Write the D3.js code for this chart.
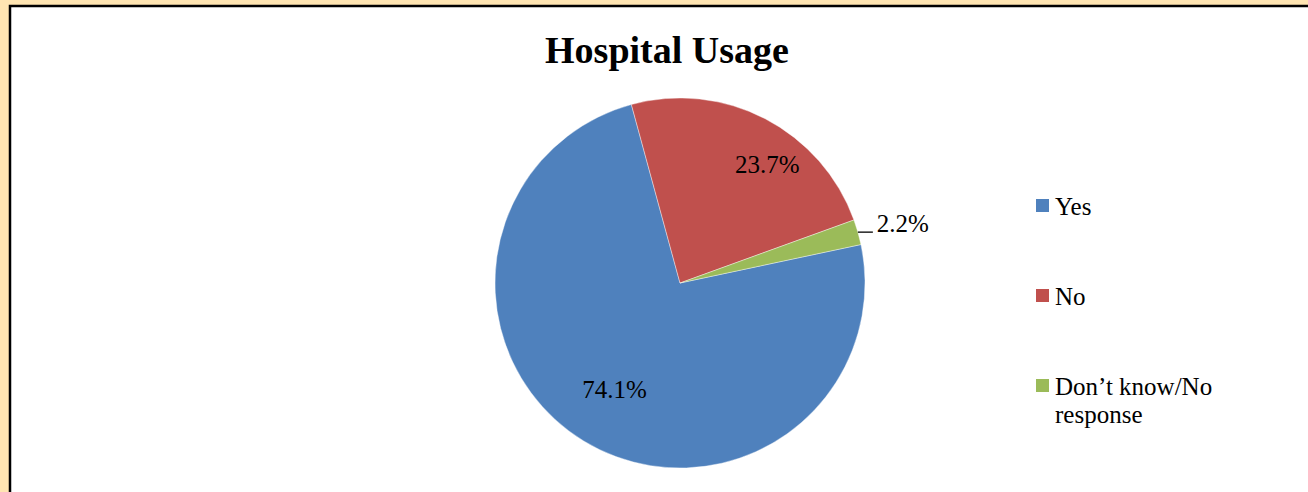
<!DOCTYPE html>
<html>
<head>
<meta charset="utf-8">
<script src="https://cdn.jsdelivr.net/npm/d3@7"></script>
<style>
  body { margin: 0; background: #FFE5B2; }
  svg { display: block; }
</style>
</head>
<body>
<svg width="1308" height="492"></svg>
<script>
// chart data
var categories = ["Yes", "No", "Don\u2019t know/No response"];
var values = [74.1, 23.7, 2.2];
var colors = ["#4F81BD", "#C0504D", "#9BBB59"];
var legendLines = [["Yes"], ["No"], ["Don\u2019t know/No", "response"]];

var svg = d3.select("svg"),
    width = +svg.attr("width"),
    height = +svg.attr("height");
var fontFam = "Liberation Serif, Times New Roman, serif";

// outer frame
svg.append("rect")
    .attr("x", 10).attr("y", 6)
    .attr("width", width + 20).attr("height", height + 20)
    .attr("fill", "#fff")
    .attr("stroke", "#000")
    .attr("stroke-width", 2.5);

svg.append("text")
    .attr("x", 667).attr("y", 63)
    .attr("text-anchor", "middle")
    .attr("font-family", fontFam)
    .attr("font-weight", "bold")
    .attr("font-size", 38)
    .text("Hospital Usage");

var cx = 680, cy = 283, r = 185;
var startAngle = 78 * Math.PI / 180;

var pie = d3.pie().sort(null).value(d => d)
    .startAngle(startAngle).endAngle(startAngle + 2 * Math.PI);
var arcs = pie(values);
var arc = d3.arc().innerRadius(0).outerRadius(r);

var g = svg.append("g").attr("transform", "translate(" + cx + "," + cy + ")");

g.selectAll("path")
    .data(arcs)
    .enter()
    .append("path")
    .attr("d", arc)
    .attr("fill", (d, i) => colors[i])
    .attr("stroke", "#fff")
    .attr("stroke-width", 0.4);

// data labels (excel "best fit" nudges the inside ones a bit)
var labelArc = d3.arc().innerRadius(r * 0.66).outerRadius(r * 0.66);
var nudge = [[-2, 11], [31, -2], [0, 0]];

arcs.forEach(function(d, i){
    if (d.value < 5) {
        // outside label with a short leader line
        var mid = (d.startAngle + d.endAngle) / 2;
        var px = Math.sin(mid) * r, py = -Math.cos(mid) * r;
        g.append("line")
            .attr("x1", px).attr("y1", py)
            .attr("x2", px + 15).attr("y2", py)
            .attr("stroke", "#000").attr("stroke-width", 1.3);
        g.append("text")
            .attr("x", px + 19).attr("y", py)
            .attr("font-family", fontFam)
            .attr("font-size", 25)
            .text(d.value.toFixed(1) + "%");
    } else {
        var c = labelArc.centroid(d);
        g.append("text")
            .attr("x", c[0] + nudge[i][0]).attr("y", c[1] + nudge[i][1])
            .attr("text-anchor", "middle")
            .attr("font-family", fontFam)
            .attr("font-size", 25)
            .text(d.value.toFixed(1) + "%");
    }
});

// legend
var legendY = d3.scalePoint().domain(categories).range([215, 395]);
var lg = svg.append("g");
categories.forEach(function(c, i){
    var y = legendY(c);
    lg.append("rect")
        .attr("x", 1036).attr("y", y - 16)
        .attr("width", 13).attr("height", 13)
        .attr("fill", colors[i]);
    var t = lg.append("text")
        .attr("x", 1055).attr("y", y)
        .attr("font-family", fontFam)
        .attr("font-size", 25);
    legendLines[i].forEach(function(line, k){
        t.append("tspan")
            .attr("x", 1055)
            .attr("dy", k == 0 ? 0 : 28)
            .text(line);
    });
});
</script>
</body>
</html>
